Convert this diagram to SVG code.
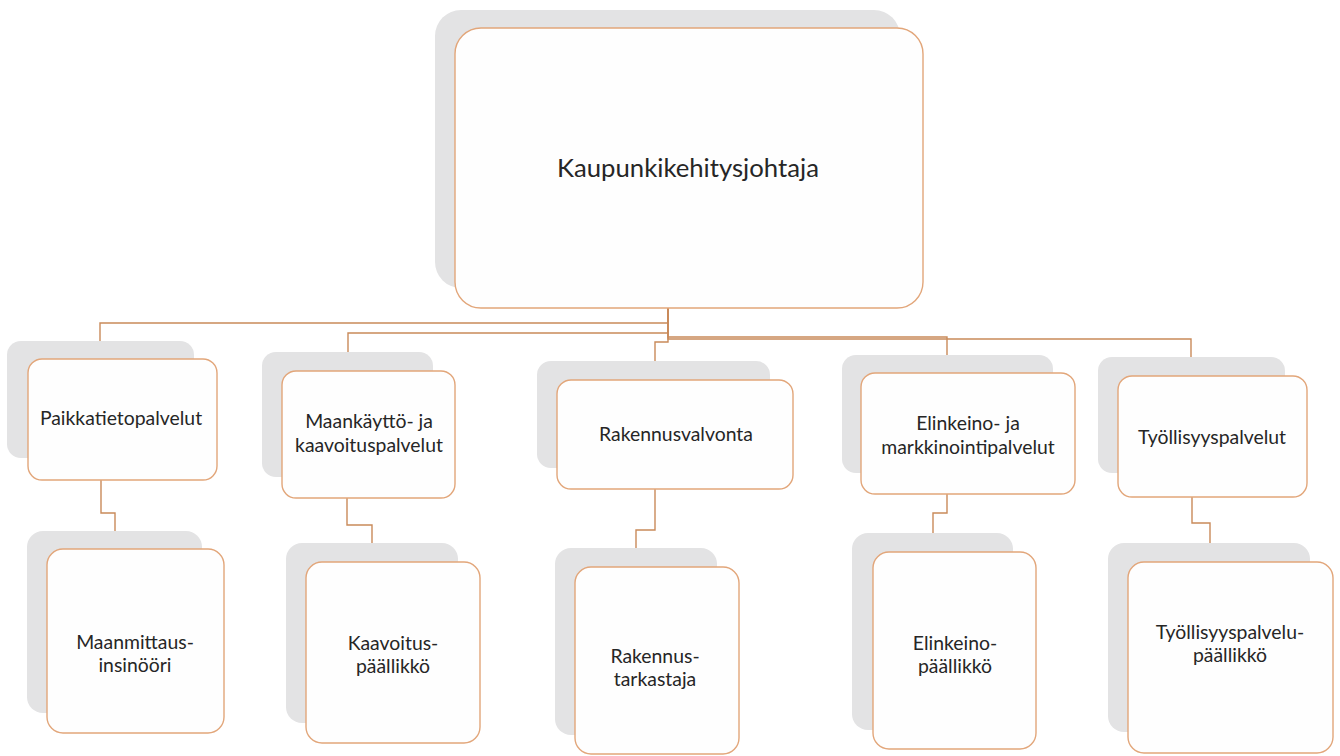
<svg xmlns="http://www.w3.org/2000/svg" width="1340" height="756" viewBox="0 0 1340 756">
<style>
.sh{fill:#e3e3e4;}
.bx{fill:#fefefe;stroke:#e2a67a;stroke-width:1.4;}
.ln{fill:none;stroke:#c98a5a;stroke-width:1.4;}
.t{font-family:Lato,"Open Sans",sans-serif;fill:#262626;text-anchor:middle;}
.t1{font-size:25.7px;}
.t2{font-size:19.4px;}
</style>
<rect width="1340" height="756" fill="#ffffff"/>
<g id="connectors">
<path class="ln" d="M668,300 V323 H100 V359"/>
<path class="ln" d="M668,300 V333 H348 V371"/>
<path class="ln" d="M668,300 V342 H655 V380"/>
<path class="ln" d="M668,300 V337 H947 V373"/>
<path class="ln" d="M668,300 V339 H1191 V376"/>
<path class="ln" d="M101,480 V513 H115 V549"/>
<path class="ln" d="M347,498 V525 H372 V562"/>
<path class="ln" d="M655,488 V530 H636 V567"/>
<path class="ln" d="M947,494 V513 H933 V552"/>
<path class="ln" d="M1192,497 V523 H1210 V562"/>
</g>
<g id="root">
<rect class="sh" x="435" y="10" width="465" height="278" rx="26"/>
<rect class="bx" x="455" y="28" width="468" height="280" rx="26"/>
<text class="t t1" x="688" y="177">Kaupunkikehitysjohtaja</text>
</g>
<g id="paikkatietopalvelut">
<rect class="sh" x="7" y="341" width="187" height="117" rx="14"/>
<rect class="bx" x="28" y="359" width="189" height="121" rx="14"/>
<text class="t t2" x="121" y="425">Paikkatietopalvelut</text>
</g>
<g id="maankaytto">
<rect class="sh" x="262" y="352" width="171" height="125" rx="14"/>
<rect class="bx" x="282" y="371" width="173" height="127" rx="14"/>
<text class="t t2" x="369" y="428">Maankäyttö- ja</text>
<text class="t t2" x="369" y="452">kaavoituspalvelut</text>
</g>
<g id="rakennusvalvonta">
<rect class="sh" x="537" y="361" width="233" height="107" rx="14"/>
<rect class="bx" x="557" y="380" width="236" height="109" rx="14"/>
<text class="t t2" x="676" y="441">Rakennusvalvonta</text>
</g>
<g id="elinkeino">
<rect class="sh" x="842" y="355" width="211" height="118" rx="14"/>
<rect class="bx" x="861" y="373" width="214" height="121" rx="14"/>
<text class="t t2" x="968" y="430">Elinkeino- ja</text>
<text class="t t2" x="968" y="454">markkinointipalvelut</text>
</g>
<g id="tyollisyys">
<rect class="sh" x="1098" y="357" width="187" height="116" rx="14"/>
<rect class="bx" x="1118" y="376" width="189" height="121" rx="14"/>
<text class="t t2" x="1212" y="444">Työllisyyspalvelut</text>
</g>
<g id="maanmittausinsinoori">
<rect class="sh" x="27" y="531" width="175" height="182" rx="16"/>
<rect class="bx" x="47" y="549" width="177" height="184" rx="16"/>
<text class="t t2" x="135" y="649">Maanmittaus-</text>
<text class="t t2" x="135" y="672">insinööri</text>
</g>
<g id="kaavoituspaallikko">
<rect class="sh" x="286" y="543" width="172" height="180" rx="16"/>
<rect class="bx" x="306" y="562" width="174" height="181" rx="16"/>
<text class="t t2" x="393" y="650">Kaavoitus-</text>
<text class="t t2" x="393" y="673">päällikkö</text>
</g>
<g id="rakennustarkastaja">
<rect class="sh" x="555" y="548" width="162" height="187" rx="16"/>
<rect class="bx" x="575" y="567" width="164" height="187" rx="16"/>
<text class="t t2" x="655" y="663">Rakennus-</text>
<text class="t t2" x="655" y="686">tarkastaja</text>
</g>
<g id="elinkeinopaallikko">
<rect class="sh" x="852" y="533" width="161" height="197" rx="16"/>
<rect class="bx" x="873" y="552" width="163" height="197" rx="16"/>
<text class="t t2" x="955" y="650">Elinkeino-</text>
<text class="t t2" x="955" y="673">päällikkö</text>
</g>
<g id="tyollisyyspalvelupaallikko">
<rect class="sh" x="1108" y="543" width="202" height="189" rx="16"/>
<rect class="bx" x="1128" y="562" width="205" height="191" rx="16"/>
<text class="t t2" x="1230" y="639">Työllisyyspalvelu-</text>
<text class="t t2" x="1230" y="662">päällikkö</text>
</g>
</svg>
